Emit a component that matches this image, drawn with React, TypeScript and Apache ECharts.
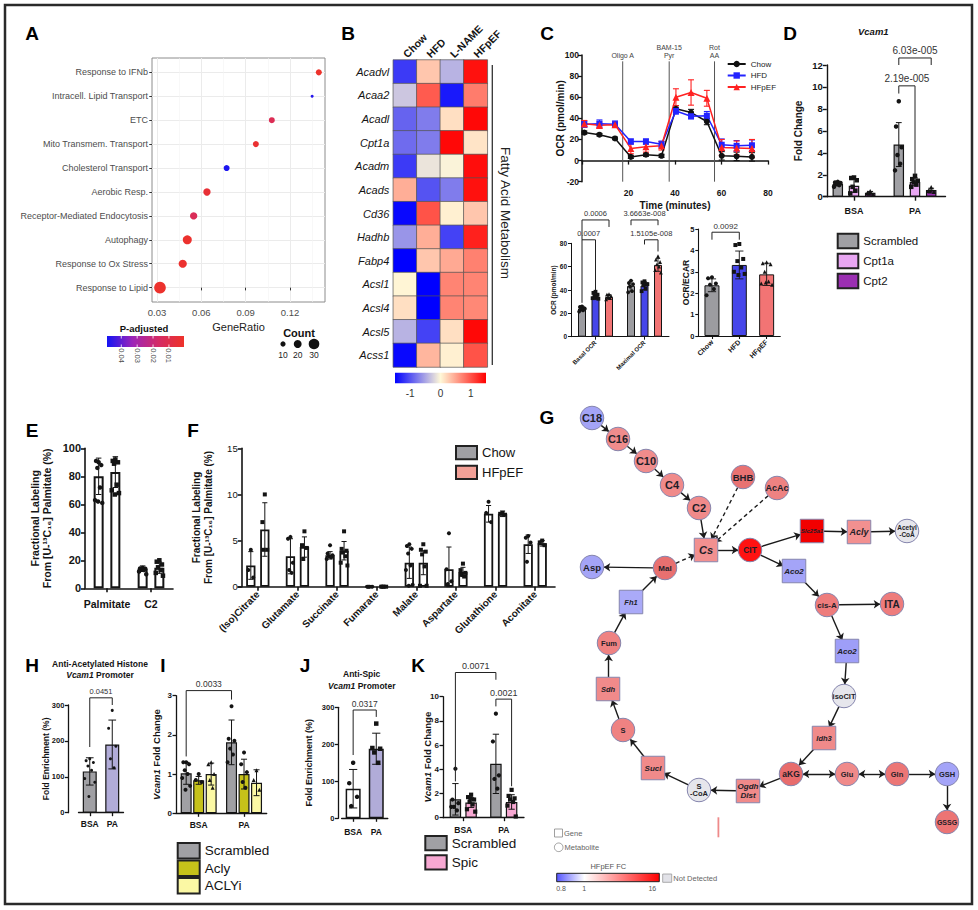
import React, { useEffect, useRef } from 'react';
import * as echarts from 'echarts';

const FONT = '"Liberation Sans", Arial, Helvetica, sans-serif';
const INK = '#141414';
const GRAY = '#a0a0a4';
const LAV = '#b1acd8';
const JIT = [0, -2.6, 2.6, -1.3, 1.3, -3.6, 3.6, -0.6, 0.6];

// ---------------- A : enrichment dot plot ----------------
const A_TERMS = ['Response to Lipid', 'Response to Ox Stress', 'Autophagy', 'Receptor-Mediated Endocytosis', 'Aerobic Resp.', 'Cholesterol Transport', 'Mito Transmem. Transport', 'ETC', 'Intracell. Lipid Transport', 'Response to IFNb'];
const A_RATIO = [0.032, 0.0474, 0.0505, 0.0548, 0.0638, 0.0771, 0.0969, 0.1077, 0.135, 0.1395];
const A_COUNT = [34, 21, 24, 18, 18, 13, 13, 13, 2, 13];
const A_PADJ = [0.0015, 0.002, 0.0018, 0.013, 0.004, 0.048, 0.003, 0.012, 0.047, 0.001];
const A_XTICKS = [0.03, 0.06, 0.09, 0.12];
const A_XMINOR = [0.045, 0.075, 0.105, 0.135];
const A_PTICKS = [0.04, 0.03, 0.02, 0.01];
const A_COUNT_KEYS = [10, 20, 30];
const A_PAL = ['#ee3229', '#d42b66', '#9d25b8', '#1414f4'];

// ---------------- B : heatmap ----------------
const B_GROUPS = ['Chow', 'HFD', 'L-NAME', 'HFpEF'];
const B_GENES = ['Acadvl', 'Acaa2', 'Acadl', 'Cpt1a', 'Acadm', 'Acads', 'Cd36', 'Hadhb', 'Fabp4', 'Acsl1', 'Acsl4', 'Acsl5', 'Acss1'];
const B_Z = [
  [-1.15, 0.3, -0.42, 1.4],
  [-0.3, 0.95, -1.35, 0.75],
  [-0.9, -0.75, 0.15, 1.45],
  [-0.85, -0.75, 1.45, 0.12],
  [-1.15, -0.12, -0.03, 1.42],
  [0.45, -1.0, -0.75, 1.4],
  [-1.45, 1.0, 0.05, 0.3],
  [-0.6, 0.45, -1.1, 1.3],
  [-1.5, 0.3, 0.48, 0.72],
  [0.02, -1.5, 0.7, 0.7],
  [0.15, -1.5, 0.7, 0.68],
  [-0.42, -1.1, 0.15, 1.45],
  [-1.45, 0.4, 0.05, 1.0],
];
const B_TICKS = [-1, 0, 1];
const B_PAL = ['#0000ff', '#fff8d8', '#ff0000'];

// ---------------- C : Seahorse ----------------
const C_TIME = [1, 7.5, 14.2, 21, 27.5, 34.2, 40.4, 46.9, 53.7, 60.1, 66.5, 73.1];
const C_CHOW = [26.5, 24.5, 21, 3.5, 5.5, 4.5, 49, 45.5, 37, 4.5, 4, 3.5];
const C_CHOW_SD = [1.5, 1.2, 1.2, 1.5, 1.5, 1.5, 3, 3, 3, 4, 4, 4];
const C_HFD = [34.5, 35, 34.5, 18, 18, 15.5, 47, 42, 42.5, 15, 14, 14.5];
const C_HFD_SD = [3, 3.5, 3, 2.5, 2.5, 3, 3, 2.5, 4, 5.5, 5, 5];
const C_HFPEF = [35, 33.5, 34, 11.5, 13, 14, 60, 64.5, 59, 12.5, 12, 11.5];
const C_HFPEF_SD = [3, 3, 2.5, 5, 5, 4, 8, 12, 7.5, 7.5, 6.5, 8.5];
const C_INJ_TIME = [17.5, 37.5, 57];
const C_INJ_LABEL = ['Oligo A', 'BAM-15\nPyr', 'Rot\nAA'];

const C_OCR_CATS = ['Basal OCR', 'Maximal OCR'];
const C_OCR_CHOW = [24.2, 43.5];
const C_OCR_CHOW_SD = [2.0, 4.5];
const C_OCR_CHOW_PTS = [[26, 25.5, 24.5, 23.5, 22.5, 21.5, 24], [48, 46, 45, 43, 39, 38]];
const C_OCR_HFD = [34.3, 43.8];
const C_OCR_HFD_SD = [2.5, 3.5];
const C_OCR_HFD_PTS = [[38.5, 37.5, 36, 35, 34, 33, 32.5, 34], [47.5, 46.5, 45, 44, 41, 39, 45]];
const C_OCR_HFPEF = [34.0, 61.5];
const C_OCR_HFPEF_SD = [2.0, 5.5];
const C_OCR_HFPEF_PTS = [[36.5, 36, 35, 34, 33, 32], [69, 66, 64, 62, 60, 57, 55]];

const C_RATIO_CATS = ['Chow', 'HFD', 'HFpEF'];
const C_RATIO = [2.37, 3.32, 2.88];
const C_RATIO_SD = [0.3, 0.65, 0.52];
const C_RATIO_PTS = [[2.75, 2.7, 2.45, 2.4, 2.2, 1.9], [4.3, 4.25, 3.6, 3.5, 3.2, 3.0, 2.9, 2.85], [3.45, 3.4, 3.35, 3.0, 2.55, 2.45, 2.4, 2.5]];

// ---------------- D : Vcam1 ----------------
const BSA_PA = ['BSA', 'PA'];
const D_SCR = [1.15, 4.75];
const D_SCR_SD = [0.15, 2.0];
const D_SCR_PTS = [[1.35, 1.3, 1.25, 1.15, 1.05, 0.9], [8.7, 6.4, 4.5, 3.8, 3.0, 2.4]];
const D_CPT1A = [1.0, 1.35];
const D_CPT1A_SD = [0.6, 0.35];
const D_CPT1A_PTS = [[1.75, 1.7, 1.5, 0.9, 0.55, 0.3], [1.9, 1.6, 1.45, 1.3, 1.1, 0.9]];
const D_CPT2 = [0.35, 0.6];
const D_CPT2_SD = [0.13, 0.17];
const D_CPT2_PTS = [[0.5, 0.35, 0.2, 0.3], [0.85, 0.55, 0.45, 0.5]];

// ---------------- E ----------------
const E_CATS = ['Palmitate', 'C2'];
const E_G1 = [80, 14];
const E_G1_SD = [13, 2];
const E_G1_PTS = [[90, 91, 88, 86, 72, 63, 61, 62], [14.5, 14.2, 14, 13.5, 13, 12, 10]];
const E_G2 = [83, 14.7];
const E_G2_SD = [11, 4];
const E_G2_PTS = [[92, 91, 90, 89, 74, 70, 68, 67], [20, 19, 17, 15, 13, 11, 9]];

// ---------------- F ----------------
const F_CATS = ['(Iso)Citrate', 'Glutamate', 'Succinate', 'Fumarate', 'Malate', 'Aspartate', 'Glutathione', 'Aconitate'];
const F_G1 = [2.3, 3.3, 3.4, 0.05, 2.6, 1.9, 7.9, 4.6];
const F_G1_SD = [1.5, 1.9, 0.4, 0.02, 1.7, 2.4, 0.9, 1.0];
const F_G1_PTS = [[4.0, 1.8, 1.0], [5.4, 5.2, 2.6, 1.8, 1.5], [4.5, 3.6, 3.4, 3.3, 3.2, 3.0], [0, 0, 0, 0], [4.6, 4.4, 4.1, 3.6, 2.3, 1.8, 0.2, 0.1], [5.8, 1.9, 0.6, 0.3], [9.2, 8.0, 7.0], [5.5, 5.3, 4.8, 2.7]];
const F_G2 = [6.2, 4.3, 3.9, 0.05, 2.6, 1.6, 7.9, 4.7];
const F_G2_SD = [2.9, 1.1, 1.0, 0.02, 1.3, 0.5, 0.3, 0.3];
const F_G2_PTS = [[10.0, 7.0, 4.0, 4.0], [6.0, 4.5, 4.2, 3.0], [6.0, 4.1, 3.9, 3.7, 3.3, 2.6, 2.3], [0, 0, 0, 0], [4.6, 4.0, 3.8, 3.5, 2.2, 0.1, 0.1], [2.5, 1.8, 1.5, 1.3, 1.1], [8.0, 7.9, 7.8], [5.0, 4.8, 4.5]];

// ---------------- H ----------------
const H_MEAN = [115, 190];
const H_SD = [38, 68];
const H_PTS = [[150, 145, 140, 130, 118, 95, 85, 45], [285, 235, 185, 150, 125]];

// ---------------- I ----------------
const I_SCR = [1.02, 1.81];
const I_SCR_SD = [0.28, 0.57];
const I_SCR_PTS = [[1.3, 1.3, 1.25, 1.1, 1.0, 0.9, 0.7, 0.6], [2.73, 1.9, 1.85, 1.65, 1.5, 1.3]];
const I_ACLY = [0.84, 1.0];
const I_ACLY_SD = [0.1, 0.38];
const I_ACLY_PTS = [[1.0, 0.85, 0.8], [1.55, 1.25, 1.05, 0.8, 0.65]];
const I_ACLYI = [1.0, 0.78];
const I_ACLYI_SD = [0.28, 0.33];
const I_ACLYI_PTS = [[1.3, 1.25, 1.0, 0.85, 0.65], [1.1, 0.85, 0.6]];

// ---------------- J ----------------
const J_MEAN = [80, 188];
const J_SD = [52, 42];
const J_PTS = [[150, 95, 58, 33], [256, 190, 188, 178, 150]];

// ---------------- K ----------------
const K_SCR = [1.52, 4.45];
const K_SCR_SD = [1.3, 2.45];
const K_SCR_PTS = [[4.05, 1.5, 1.2, 0.9, 0.6, 0.9], [8.6, 6.3, 3.5, 3.2, 2.4]];
const K_SPIC = [1.25, 1.3];
const K_SPIC_SD = [0.4, 0.6];
const K_SPIC_PTS = [[1.9, 1.7, 1.5, 1.3, 1.1, 0.7, 0.5, 1.6], [2.3, 1.8, 1.6, 1.5, 1.3, 1.0, 0.1]];

// ---------------- G : pathway ----------------
// [id, label, x, y, shape, fill, fontSize, italic]
const G_NODES: any[] = [
  ['C18', 'C18', 592, 418, 'c', '#a4a4f6', 11, 0],
  ['C16', 'C16', 618, 439, 'c', '#f08c8c', 11, 0],
  ['C10', 'C10', 646, 461, 'c', '#f08c8c', 11, 0],
  ['C4', 'C4', 672, 485, 'c', '#f08a8a', 11, 0],
  ['C2', 'C2', 699, 508, 'c', '#f08a8a', 11, 0],
  ['BHB', 'BHB', 743, 477, 'c', '#e87272', 9.5, 0],
  ['AcAc', 'AcAc', 777, 488, 'c', '#ee8282', 9, 0],
  ['Cs', 'Cs', 706, 550, 's', '#f29090', 11, 1],
  ['CIT', 'CIT', 750, 550, 'c', '#ff1212', 8.5, 0],
  ['Slc25a1', 'Slc25a1', 812, 531, 's', '#f20000', 6, 1],
  ['Acly', 'Acly', 859, 532, 's', '#f29090', 9, 1],
  ['AcCoA', 'Acetyl\n-CoA', 907, 531, 'c', '#e6e6ec', 6.5, 0],
  ['Aco2a', 'Aco2', 794, 571, 's', '#a4a4f8', 8, 1],
  ['Asp', 'Asp', 592, 567, 'c', '#a4a4f6', 9.5, 0],
  ['Mal', 'Mal', 665, 568, 'c', '#e87070', 8, 0],
  ['Fh1', 'Fh1', 631, 602, 's', '#aaaaf8', 7.5, 1],
  ['cisA', 'cis-A', 827, 605, 'c', '#ee7c7c', 8, 0],
  ['ITA', 'ITA', 892, 604, 'c', '#ee7c7c', 10, 0],
  ['Fum', 'Fum', 609, 643, 'c', '#ef8282', 7.5, 0],
  ['Aco2b', 'Aco2', 847, 651, 's', '#9e9ef8', 8, 1],
  ['Sdh', 'Sdh', 608, 689, 's', '#f08a8a', 7.5, 1],
  ['isoCIT', 'isoCIT', 844, 696, 'c', '#e6e6ec', 7.5, 0],
  ['S', 'S', 623, 730, 'c', '#ef8282', 7.5, 0],
  ['Idh3', 'Idh3', 824, 738, 's', '#f08a8a', 7.5, 1],
  ['Sucl', 'Sucl', 653, 768, 's', '#f08a8a', 8, 1],
  ['aKG', 'aKG', 791, 774, 'c', '#e86c6c', 8.5, 0],
  ['Glu', 'Glu', 847, 774, 'c', '#f08a8a', 7.5, 0],
  ['Gln', 'Gln', 897, 774, 'c', '#ec7676', 7.5, 0],
  ['GSH', 'GSH', 947, 774, 'c', '#a4a4f8', 7.5, 0],
  ['SCoA', 'S\n-CoA', 699, 790, 'c', '#e6e6ec', 7.5, 0],
  ['Ogdh', 'Ogdh\nDlst', 748, 791, 's', '#f08a8a', 8, 1],
  ['GSSG', 'GSSG', 947, 822, 'c', '#ec7474', 7, 0],
];
// [source, target, style: s solid, d dashed, b double arrow]
const G_EDGES: any[] = [
  ['C18', 'C16', 's'], ['C16', 'C10', 's'], ['C10', 'C4', 's'], ['C4', 'C2', 's'], ['C2', 'Cs', 's'],
  ['BHB', 'Cs', 'd'], ['AcAc', 'Cs', 'd'], ['Mal', 'Cs', 'd'], ['Cs', 'CIT', 's'],
  ['CIT', 'Slc25a1', 's'], ['Slc25a1', 'Acly', 's'], ['Acly', 'AcCoA', 's'],
  ['CIT', 'Aco2a', 's'], ['Aco2a', 'cisA', 's'], ['cisA', 'ITA', 's'], ['cisA', 'Aco2b', 's'],
  ['Aco2b', 'isoCIT', 's'], ['isoCIT', 'Idh3', 's'], ['Idh3', 'aKG', 's'],
  ['aKG', 'Glu', 'b'], ['Glu', 'Gln', 'b'], ['Gln', 'GSH', 's'], ['GSH', 'GSSG', 's'],
  ['aKG', 'Ogdh', 's'], ['Ogdh', 'SCoA', 's'], ['SCoA', 'Sucl', 's'], ['Sucl', 'S', 's'],
  ['S', 'Sdh', 's'], ['Sdh', 'Fum', 's'], ['Fum', 'Fh1', 's'], ['Fh1', 'Mal', 's'], ['Mal', 'Asp', 's'],
];
const G_FC_LABELS = ['0.8', '1', '16'];

function sizeOf(count: number) {
  return 2.5 + 0.27 * count;
}

function txt(x: number, y: number, text: string, o: any = {}) {
  const al = o.al || 'center';
  const va = o.va || 'middle';
  return {
    type: 'text', x, y, rotation: o.rot || 0, z: 100, silent: true,
    style: {
      text, fontSize: o.fs || 10, fontWeight: o.fw || 'normal', fontStyle: o.it ? 'italic' : 'normal',
      fontFamily: FONT, fill: o.fill || INK, align: al, verticalAlign: va, textAlign: al, textVerticalAlign: va,
      rich: o.rich, lineHeight: o.lh,
    },
  };
}

function buildOption() {
  const grid: any[] = [];
  const xAxis: any[] = [];
  const yAxis: any[] = [];
  const series: any[] = [];
  const legend: any[] = [];
  const visualMap: any[] = [];
  const els: any[] = [];

  // ---------- C top: line chart (first so legend uses line icons) ----------
  {
    const gi = grid.length;
    grid.push({ left: 582, top: 55, width: 186, height: 126.7, outerBoundsMode: 'none' });
    const xi = xAxis.length; const yi = yAxis.length;
    xAxis.push({
      type: 'value', gridIndex: gi, min: 0, max: 80, interval: 20,
      axisLine: { onZero: true, lineStyle: { color: INK, width: 1.5 } },
      axisTick: { length: 4, lineStyle: { color: INK, width: 1.3 } },
      axisLabel: { fontSize: 8.5, fontWeight: 'bold', color: INK, margin: 7, formatter: (v: number) => (v === 0 ? '' : String(v)) },
      splitLine: { show: false },
      name: 'Time (minutes)', nameLocation: 'middle', nameGap: 18.5, nameMoveOverlap: false,
      nameTextStyle: { fontSize: 10, fontWeight: 'bold', color: INK },
    });
    yAxis.push({
      type: 'value', gridIndex: gi, min: -20, max: 100, interval: 20,
      axisLine: { show: true, onZero: false, lineStyle: { color: INK, width: 1.5 } },
      axisTick: { show: true, length: 4, lineStyle: { color: INK, width: 1.3 } },
      axisLabel: { fontSize: 8.5, fontWeight: 'bold', color: INK, margin: 3 },
      splitLine: { show: false },
      name: 'OCR (pmol/min)', nameLocation: 'middle', nameRotate: 90, nameGap: 17, nameMoveOverlap: false,
      nameTextStyle: { fontSize: 10, fontWeight: 'bold', color: INK },
    });
    const groups = [
      { name: 'Chow', v: C_CHOW, sd: C_CHOW_SD, color: '#111111', sym: 'circle', ss: 6 },
      { name: 'HFD', v: C_HFD, sd: C_HFD_SD, color: '#2323ff', sym: 'rect', ss: 6 },
      { name: 'HFpEF', v: C_HFPEF, sd: C_HFPEF_SD, color: '#ff2222', sym: 'triangle', ss: 7 },
    ];
    groups.forEach((g) => {
      series.push({
        type: 'line', name: g.name, xAxisIndex: xi, yAxisIndex: yi, z: 4, silent: true,
        data: C_TIME.map((t, i) => [t, g.v[i]]), symbol: g.sym, symbolSize: g.ss, showSymbol: true,
        itemStyle: { color: g.color }, lineStyle: { color: g.color, width: 1.5 },
      });
    });
    groups.forEach((g) => {
      series.push({
        type: 'custom', xAxisIndex: xi, yAxisIndex: yi, z: 3, silent: true,
        data: C_TIME.map((t, i) => [t, g.v[i], g.sd[i]]),
        renderItem: (params: any, api: any) => {
          const t = api.value(0); const m = api.value(1); const s = api.value(2);
          const a = api.coord([t, m + s]); const b = api.coord([t, m - s]);
          const st = () => ({ stroke: g.color, lineWidth: 1.1 });
          return {
            type: 'group', children: [
              { type: 'line', shape: { x1: a[0], y1: a[1], x2: b[0], y2: b[1] }, style: st() },
              { type: 'line', shape: { x1: a[0] - 3, y1: a[1], x2: a[0] + 3, y2: a[1] }, style: st() },
              { type: 'line', shape: { x1: b[0] - 3, y1: b[1], x2: b[0] + 3, y2: b[1] }, style: st() },
            ],
          };
        },
      });
    });
    series.push({
      type: 'custom', xAxisIndex: xi, yAxisIndex: yi, z: 2, silent: true,
      data: C_INJ_TIME.map((t) => [t, 94]),
      renderItem: (params: any, api: any) => {
        const t = api.value(0);
        const top = api.coord([t, api.value(1)]); const bot = api.coord([t, -20]);
        return {
          type: 'group', children: [
            { type: 'line', shape: { x1: top[0], y1: top[1], x2: bot[0], y2: bot[1] }, style: { stroke: '#555', lineWidth: 1 } },
            { type: 'text', style: { text: C_INJ_LABEL[params.dataIndex], x: top[0], y: top[1] - 2, align: 'center', verticalAlign: 'bottom', textAlign: 'center', textVerticalAlign: 'bottom', fontSize: 7, lineHeight: 8, fill: '#444', fontFamily: FONT } },
          ],
        };
      },
    });
    legend.push({
      orient: 'vertical', left: 726.7, top: 60, padding: 0, itemWidth: 18, itemHeight: 8, itemGap: 3.5,
      selectedMode: false, textStyle: { fontSize: 8, color: '#222', lineHeight: 8, fontFamily: FONT },
      data: ['Chow', 'HFD', 'HFpEF'],
    });
  }

  // ---------- generic bar panel ----------
  function barPanel(p: any) {
    const gi = grid.length;
    grid.push({ left: p.left, top: p.top, width: p.width, height: p.height, outerBoundsMode: 'none' });
    const xi = xAxis.length; const yi = yAxis.length;
    const aw = p.axisW ?? 1.4; const tl = p.tickLen ?? 4;
    xAxis.push({
      type: 'category', gridIndex: gi, data: p.cats,
      axisLine: { show: true, onZero: false, lineStyle: { color: INK, width: aw } },
      axisTick: { show: true, alignWithLabel: true, length: tl, lineStyle: { color: INK, width: aw } },
      axisLabel: { interval: 0, fontSize: p.catFont, fontWeight: 'bold', color: INK, rotate: p.catRotate ?? 0, margin: p.catMargin ?? 5, fontFamily: FONT },
      splitLine: { show: false },
    });
    yAxis.push({
      type: 'value', gridIndex: gi, min: 0, max: p.yMax, interval: p.yStep, offset: p.yOffset ?? 0,
      axisLine: { show: true, onZero: false, lineStyle: { color: INK, width: aw } },
      axisTick: { show: true, length: tl, lineStyle: { color: INK, width: aw } },
      axisLabel: { fontSize: p.yFont, fontWeight: p.yBold === false ? 'normal' : 'bold', color: INK, margin: p.yMargin ?? 4, fontFamily: FONT },
      splitLine: { show: false },
      name: p.yName, nameLocation: 'middle', nameRotate: 90, nameGap: p.yNameGap, nameMoveOverlap: false,
      nameTextStyle: { fontSize: p.yNameFont, fontWeight: 'bold', color: INK, lineHeight: p.yNameLH, rich: p.yNameRich, fontFamily: FONT },
    });
    const k = p.groups.length; const w = p.barW; const gap = p.gapPx;
    const total = k * w + (k - 1) * gap;
    const offs = p.groups.map((_: any, j: number) => -total / 2 + w / 2 + j * (w + gap));
    const capW = p.capW ?? w * 0.55;
    p.groups.forEach((g: any, j: number) => {
      const off = offs[j];
      series.push({
        type: 'bar', name: g.name, xAxisIndex: xi, yAxisIndex: yi, barWidth: w, barGap: (gap / w) * 100 + '%',
        silent: true, z: 2, itemStyle: { color: g.color, borderColor: INK, borderWidth: p.borderW ?? 1.2 },
        data: g.mean,
      });
      const err: any[] = [];
      g.mean.forEach((m: any, i: number) => { if (m != null) err.push([i, m, g.sd[i]]); });
      series.push({
        type: 'custom', xAxisIndex: xi, yAxisIndex: yi, silent: true, z: 3, data: err,
        renderItem: (params: any, api: any) => {
          const i = api.value(0); const m = api.value(1); const s = api.value(2);
          const t = api.coord([i, m + s]); const b = api.coord([i, Math.max(0, m - s)]);
          const x = t[0] + off;
          const st = () => ({ stroke: INK, lineWidth: p.errW ?? 1 });
          return {
            type: 'group', children: [
              { type: 'line', shape: { x1: x, y1: t[1], x2: x, y2: b[1] }, style: st() },
              { type: 'line', shape: { x1: x - capW / 2, y1: t[1], x2: x + capW / 2, y2: t[1] }, style: st() },
              { type: 'line', shape: { x1: x - capW / 2, y1: b[1], x2: x + capW / 2, y2: b[1] }, style: st() },
            ],
          };
        },
      });
      const dots: any[] = [];
      g.pts.forEach((arr: number[], i: number) => arr.forEach((v: number, n: number) => {
        dots.push({ value: [i, v], symbolOffset: [off + (JIT[n % JIT.length] * w) / 10, 0] });
      }));
      series.push({
        type: 'scatter', xAxisIndex: xi, yAxisIndex: yi, silent: true, z: 4, symbol: g.dot || 'circle',
        symbolSize: p.dotSize, itemStyle: { color: INK, opacity: 1 }, data: dots,
      });
    });
    if (p.brackets) {
      const brs = p.brackets;
      series.push({
        type: 'custom', xAxisIndex: xi, yAxisIndex: yi, silent: true, z: 5,
        data: brs.map((b: any) => [b.a[0], b.y]),
        renderItem: (params: any, api: any) => {
          const b = brs[params.dataIndex];
          const pa = api.coord([b.a[0], b.y]); const pb = api.coord([b.b[0], b.y]);
          const xa = pa[0] + offs[b.a[1]]; const xb = pb[0] + offs[b.b[1]];
          const ya = api.coord([b.a[0], b.la])[1]; const yb = api.coord([b.b[0], b.lb])[1];
          return {
            type: 'group', children: [
              { type: 'polyline', shape: { points: [[xa, ya], [xa, pa[1]], [xb, pb[1]], [xb, yb]] }, style: { stroke: '#222', fill: 'none', lineWidth: 1 } },
              { type: 'text', style: { text: b.t, x: (xa + xb) / 2, y: pa[1] - 2, align: 'center', verticalAlign: 'bottom', textAlign: 'center', textVerticalAlign: 'bottom', fontSize: p.brFont, fill: '#333', fontFamily: FONT } },
            ],
          };
        },
      });
    }
  }

  // ---------- A ----------
  {
    const gi = grid.length;
    grid.push({ left: 152, top: 58, width: 173, height: 244, show: true, borderColor: '#8c8c8c', borderWidth: 1, backgroundColor: '#fff', outerBoundsMode: 'none' });
    const xi = xAxis.length; const yi = yAxis.length;
    xAxis.push({
      type: 'value', gridIndex: gi, min: 0.0266, max: 0.1437, position: 'bottom',
      axisLine: { show: false },
      axisTick: { show: true, length: 2.75, lineStyle: { color: '#333', width: 1 }, customValues: A_XTICKS },
      axisLabel: { customValues: A_XTICKS, fontSize: 9.5, color: '#4d4d4d', margin: 5, formatter: (v: number) => v.toFixed(2), fontFamily: FONT },
      splitLine: { show: true, lineStyle: { color: '#ebebeb', width: 1 } },
      name: 'GeneRatio', nameLocation: 'middle', nameGap: 19.5, nameMoveOverlap: false,
      nameTextStyle: { fontSize: 11, color: '#222', fontFamily: FONT },
    });
    xAxis.push({
      type: 'value', gridIndex: gi, min: 0.0266, max: 0.1437, position: 'top',
      axisLine: { show: false }, axisTick: { show: false, customValues: A_XMINOR },
      axisLabel: { show: false, customValues: A_XMINOR },
      splitLine: { show: true, lineStyle: { color: '#f3f3f3', width: 0.6 } },
    });
    yAxis.push({
      type: 'value', gridIndex: gi, min: -0.6, max: 9.6,
      axisLine: { show: false },
      axisTick: { show: true, length: 2.75, lineStyle: { color: '#333', width: 1 }, customValues: A_TERMS.map((_, i) => i) },
      axisLabel: { customValues: A_TERMS.map((_, i) => i), formatter: (v: number) => A_TERMS[Math.round(v)], fontSize: 9, color: '#4d4d4d', margin: 4, fontFamily: FONT },
      splitLine: { show: true, lineStyle: { color: '#ebebeb', width: 1 } },
    });
    const si = series.length;
    series.push({
      type: 'scatter', xAxisIndex: xi, yAxisIndex: yi, z: 5, silent: true,
      data: A_RATIO.map((r, i) => [r, i, A_COUNT[i], A_PADJ[i]]),
      symbolSize: (d: number[]) => sizeOf(d[2]), itemStyle: { opacity: 1 },
    });
    visualMap.push({ type: 'continuous', show: false, seriesIndex: si, dimension: 3, min: 0.0005, max: 0.049, inRange: { color: A_PAL } });
    // colour bar
    const cbL = 107; const cbW = 77;
    els.push({
      type: 'rect', shape: { x: cbL, y: 336, width: cbW, height: 11 }, silent: true,
      style: { fill: new echarts.graphic.LinearGradient(0, 0, 1, 0, A_PAL.slice().reverse().map((c, i) => ({ offset: i / (A_PAL.length - 1), color: c }))) },
    });
    A_PTICKS.forEach((p) => {
      const x = cbL + ((0.049 - p) / (0.049 - 0.0005)) * cbW;
      els.push({ type: 'line', shape: { x1: x, y1: 336, x2: x, y2: 338.5 }, style: { stroke: '#fff', lineWidth: 0.8 }, silent: true, z: 101 });
      els.push({ type: 'line', shape: { x1: x, y1: 344.5, x2: x, y2: 347 }, style: { stroke: '#fff', lineWidth: 0.8 }, silent: true, z: 101 });
      els.push(txt(x, 355.5, p.toFixed(2), { fs: 7.5, rot: -Math.PI / 2, fill: '#4d4d4d' }));
    });
    els.push(txt(144, 328, 'P-adjusted', { fs: 9.5, fw: 'bold', fill: '#111' }));
    els.push(txt(299, 332.7, 'Count', { fs: 11, fw: 'bold', fill: '#111' }));
    const cx = [283, 297.7, 314];
    A_COUNT_KEYS.forEach((c, i) => {
      els.push({ type: 'circle', shape: { cx: cx[i], cy: 344, r: sizeOf(c) / 2 }, style: { fill: '#111' }, silent: true });
      els.push(txt(cx[i], 355, String(c), { fs: 8.5, fill: '#222' }));
    });
  }

  // ---------- B ----------
  {
    const gi = grid.length;
    grid.push({ left: 393.3, top: 60, width: 94, height: 307, outerBoundsMode: 'none' });
    const xi = xAxis.length; const yi = yAxis.length;
    xAxis.push({
      type: 'category', gridIndex: gi, position: 'top', data: B_GROUPS,
      axisLine: { show: false }, axisTick: { show: false }, splitLine: { show: false },
      axisLabel: { interval: 0, rotate: -45, fontSize: 10.5, fontWeight: 'bold', color: INK, margin: 4, fontFamily: FONT },
    });
    yAxis.push({
      type: 'category', gridIndex: gi, data: B_GENES, inverse: true,
      axisLine: { show: false }, axisTick: { show: false }, splitLine: { show: false },
      axisLabel: { interval: 0, fontSize: 11, fontStyle: 'italic', color: INK, margin: 4, fontFamily: FONT },
    });
    const si = series.length;
    const data: any[] = [];
    B_Z.forEach((row, r) => row.forEach((v, c) => data.push([c, r, v])));
    series.push({
      type: 'heatmap', xAxisIndex: xi, yAxisIndex: yi, data, silent: true,
      itemStyle: { borderColor: '#555', borderWidth: 0.7 },
    });
    visualMap.push({ type: 'continuous', show: false, seriesIndex: si, dimension: 2, min: -1.5, max: 1.5, inRange: { color: B_PAL } });
    const bl = 395; const bw = 91;
    els.push({
      type: 'rect', shape: { x: bl, y: 372.7, width: bw, height: 10.6 }, silent: true,
      style: { fill: new echarts.graphic.LinearGradient(0, 0, 1, 0, B_PAL.map((c, i) => ({ offset: i / (B_PAL.length - 1), color: c }))) },
    });
    B_TICKS.forEach((t) => els.push(txt(bl + ((t + 1.5) / 3) * bw, 393.3, String(t), { fs: 10, fill: '#333' })));
    els.push({ type: 'line', shape: { x1: 492.3, y1: 65, x2: 492.3, y2: 365 }, style: { stroke: '#333', lineWidth: 1.3 }, silent: true });
    els.push(txt(505, 213, 'Fatty Acid Metabolism', { fs: 13.5, rot: -Math.PI / 2, fill: '#222' }));
  }

  // ---------- C bottom left ----------
  barPanel({
    left: 571, top: 243.3, width: 98, height: 93.4, cats: C_OCR_CATS, catFont: 6, catRotate: 45, catMargin: 5,
    yMax: 80, yStep: 20, yFont: 6.5, yName: 'OCR (pmol/min)', yNameFont: 6.5, yNameGap: 14.5,
    barW: 8, gapPx: 5.5, axisW: 1, tickLen: 3, dotSize: 3.8, borderW: 1, errW: 0.9, brFont: 7.5,
    groups: [
      { name: 'Chow', color: '#9c9ca0', mean: C_OCR_CHOW, sd: C_OCR_CHOW_SD, pts: C_OCR_CHOW_PTS, dot: 'circle' },
      { name: 'HFD', color: '#4646ea', mean: C_OCR_HFD, sd: C_OCR_HFD_SD, pts: C_OCR_HFD_PTS, dot: 'rect' },
      { name: 'HFpEF', color: '#f27474', mean: C_OCR_HFPEF, sd: C_OCR_HFPEF_SD, pts: C_OCR_HFPEF_PTS, dot: 'triangle' },
    ],
    brackets: [
      { a: [0, 0], b: [0, 2], y: 100, la: 83, lb: 94, t: '0.0006' },
      { a: [0, 0], b: [0, 1], y: 83, la: 29, lb: 40, t: '0.0007' },
      { a: [1, 0], b: [1, 2], y: 100, la: 95.5, lb: 95.5, t: '3.6663e-008' },
      { a: [1, 1], b: [1, 2], y: 83, la: 79, lb: 73, t: '1.5105e-008' },
    ],
  });

  // ---------- C bottom right ----------
  barPanel({
    left: 698.3, top: 229, width: 82, height: 107, cats: C_RATIO_CATS, catFont: 7, catRotate: 45, catMargin: 5,
    yMax: 5, yStep: 1, yFont: 7.5, yName: 'OCR/ECAR', yNameFont: 8.5, yNameGap: 8,
    barW: 15, gapPx: -15, axisW: 1.1, tickLen: 3, dotSize: 4, borderW: 1, errW: 0.9, brFont: 8,
    groups: [
      { name: 'Chow', color: '#9c9ca0', mean: [C_RATIO[0], null, null], sd: [C_RATIO_SD[0], 0, 0], pts: [C_RATIO_PTS[0], [], []], dot: 'circle' },
      { name: 'HFD', color: '#4646ea', mean: [null, C_RATIO[1], null], sd: [0, C_RATIO_SD[1], 0], pts: [[], C_RATIO_PTS[1], []], dot: 'rect' },
      { name: 'HFpEF', color: '#f27474', mean: [null, null, C_RATIO[2]], sd: [0, 0, C_RATIO_SD[2]], pts: [[], [], C_RATIO_PTS[2]], dot: 'triangle' },
    ],
    brackets: [{ a: [0, 0], b: [1, 1], y: 4.85, la: 4.5, lb: 4.5, t: '0.0092' }],
  });

  // ---------- D ----------
  barPanel({
    left: 823.5, top: 65, width: 122, height: 131.7, cats: BSA_PA, catFont: 9, catMargin: 9.5,
    yMax: 12, yStep: 2, yFont: 9.5, yOffset: -3.3, yName: 'Fold Change', yNameFont: 10, yNameGap: 23.5,
    barW: 10.5, gapPx: 5.7, dotSize: 4.5, brFont: 10,
    groups: [
      { name: 'Scrambled', color: GRAY, mean: D_SCR, sd: D_SCR_SD, pts: D_SCR_PTS, dot: 'circle' },
      { name: 'Cpt1a', color: '#e8a6f2', mean: D_CPT1A, sd: D_CPT1A_SD, pts: D_CPT1A_PTS, dot: 'rect' },
      { name: 'Cpt2', color: '#9b2fb2', mean: D_CPT2, sd: D_CPT2_SD, pts: D_CPT2_PTS, dot: 'triangle' },
    ],
    brackets: [
      { a: [1, 0], b: [1, 2], y: 12.64, la: 12.0, lb: 12.0, t: '6.03e-005' },
      { a: [1, 0], b: [1, 1], y: 10.1, la: 9.4, lb: 1.9, t: '2.19e-005' },
    ],
  });
  legend.push({
    orient: 'vertical', left: 836.7, top: 232.7, padding: 0, itemWidth: 20.6, itemHeight: 14.6, itemGap: 3.4, icon: 'rect',
    selectedMode: false, textStyle: { fontSize: 11.5, color: INK, lineHeight: 14.6, fontFamily: FONT },
    itemStyle: { borderColor: '#222', borderWidth: 2 }, data: ['Scrambled', 'Cpt1a', 'Cpt2'],
  });

  // ---------- E ----------
  barPanel({
    left: 85, top: 448.3, width: 88, height: 140, cats: E_CATS, catFont: 10.5, catMargin: 10,
    yMax: 100, yStep: 20, yFont: 11, yName: 'Fractional Labeling\nFrom [U-\u00b9\u00b3C\u2081\u2086] Palmitate (%)',
    yNameFont: 10.5, yNameLH: 11.7, yNameGap: 32.5, barW: 10, gapPx: 6.7, borderW: 2, axisW: 1.6, dotSize: 4.5,
    groups: [
      { name: 'E-Chow', color: '#ffffff', mean: E_G1, sd: E_G1_SD, pts: E_G1_PTS },
      { name: 'E-HFpEF', color: '#ffffff', mean: E_G2, sd: E_G2_SD, pts: E_G2_PTS, dot: 'rect' },
    ],
  });

  // ---------- F ----------
  barPanel({
    left: 238, top: 448.3, width: 317, height: 138.4, cats: F_CATS, catFont: 10, catRotate: 45, catMargin: 6,
    yMax: 15, yStep: 5, yFont: 9.5, yBold: false, yOffset: -3.7,
    yName: 'Fractional Labeling\nFrom [U-\u00b9\u00b3C\u2081\u2086] Palmitate (%)', yNameFont: 10, yNameLH: 11.6, yNameGap: 27.6,
    barW: 9.3, gapPx: 4.7, borderW: 1.8, axisW: 1.6, dotSize: 4,
    groups: [
      { name: 'F-Chow', color: '#ffffff', mean: F_G1, sd: F_G1_SD, pts: F_G1_PTS },
      { name: 'F-HFpEF', color: '#ffffff', mean: F_G2, sd: F_G2_SD, pts: F_G2_PTS, dot: 'rect' },
    ],
  });
  legend.push({
    orient: 'vertical', left: 455, top: 445, padding: 0, itemWidth: 21, itemHeight: 13.3, itemGap: 4.4, icon: 'rect',
    selectedMode: false, textStyle: { fontSize: 13, color: INK, lineHeight: 13.3, fontFamily: FONT },
    itemStyle: { borderColor: '#222', borderWidth: 2 }, formatter: (n: string) => n.slice(2),
    data: [{ name: 'F-Chow', itemStyle: { color: GRAY } }, { name: 'F-HFpEF', itemStyle: { color: '#f2a097' } }],
  });

  // ---------- H ----------
  barPanel({
    left: 78.5, top: 705, width: 45, height: 107.7, cats: BSA_PA, catFont: 8.5, catMargin: 6.4,
    yMax: 300, yStep: 100, yFont: 7.5, yOffset: 10.2, yName: 'Fold Enrichment (%)', yNameFont: 8.5, yNameGap: 18.3,
    barW: 14, gapPx: -14, dotSize: 3, brFont: 7.5, axisW: 1.3, tickLen: 3.5,
    groups: [
      { name: 'H-BSA', color: GRAY, mean: [H_MEAN[0], null], sd: [H_SD[0], 0], pts: [H_PTS[0], []] },
      { name: 'H-PA', color: LAV, mean: [null, H_MEAN[1]], sd: [0, H_SD[1]], pts: [[], H_PTS[1]] },
    ],
    brackets: [{ a: [0, 0], b: [1, 1], y: 320, la: 183, lb: 300, t: '0.0451' }],
  });

  // ---------- I ----------
  const vRich = (fs: number) => ({ i: { fontStyle: 'italic', fontWeight: 'bold', fontSize: fs, color: INK, fontFamily: FONT } });
  barPanel({
    left: 176, top: 695.7, width: 90.7, height: 117.6, cats: BSA_PA, catFont: 8.5, catMargin: 7.5,
    yMax: 3, yStep: 1, yFont: 8, yName: '{i|Vcam1} Fold Change', yNameFont: 9.5, yNameGap: 14.5, yNameRich: vRich(9.5),
    barW: 11, gapPx: 1.5, dotSize: 4, brFont: 8.5, axisW: 1.3, tickLen: 3.5,
    groups: [
      { name: 'Scrambled', color: GRAY, mean: I_SCR, sd: I_SCR_SD, pts: I_SCR_PTS },
      { name: 'Acly', color: '#c6c21a', mean: I_ACLY, sd: I_ACLY_SD, pts: I_ACLY_PTS },
      { name: 'ACLYi', color: '#fbf8a4', mean: I_ACLYI, sd: I_ACLYI_SD, pts: I_ACLYI_PTS, dot: 'triangle' },
    ],
    brackets: [{ a: [0, 0], b: [1, 0], y: 3.13, la: 1.45, lb: 2.9, t: '0.0033' }],
  });
  legend.push({
    orient: 'vertical', left: 176.7, top: 842, padding: 0, itemWidth: 22, itemHeight: 15.5, itemGap: 0, icon: 'rect',
    selectedMode: false, textStyle: { fontSize: 13.5, color: INK, lineHeight: 15.5, fontFamily: FONT },
    itemStyle: { borderColor: '#222', borderWidth: 2 }, data: ['Scrambled', 'Acly', 'ACLYi'],
  });

  // ---------- J ----------
  barPanel({
    left: 341.6, top: 707.3, width: 46.2, height: 111, cats: BSA_PA, catFont: 8.5, catMargin: 9,
    yMax: 300, yStep: 100, yFont: 7.5, yOffset: 3.3, yName: 'Fold Enrichment (%)', yNameFont: 9, yNameGap: 24.5,
    barW: 15, gapPx: -15, dotSize: 4.5, brFont: 8.5, axisW: 1.3, tickLen: 3.5, borderW: 1.5,
    groups: [
      { name: 'J-BSA', color: '#ffffff', mean: [J_MEAN[0], null], sd: [J_SD[0], 0], pts: [J_PTS[0], []] },
      { name: 'J-PA', color: LAV, mean: [null, J_MEAN[1]], sd: [0, J_SD[1]], pts: [[], J_PTS[1]], dot: 'rect' },
    ],
    brackets: [{ a: [0, 0], b: [1, 1], y: 292.7, la: 171, lb: 274, t: '0.0317' }],
  });

  // ---------- K ----------
  barPanel({
    left: 443, top: 696.7, width: 81, height: 121, cats: BSA_PA, catFont: 8.5, catMargin: 8,
    yMax: 10, yStep: 2, yFont: 8, yName: '{i|Vcam1} Fold Change', yNameFont: 9.5, yNameGap: 10.5, yNameRich: vRich(9.5),
    barW: 11.5, gapPx: 4.2, dotSize: 4.2, brFont: 9, axisW: 1.3, tickLen: 3.5,
    groups: [
      { name: 'Scrambled', color: GRAY, mean: K_SCR, sd: K_SCR_SD, pts: K_SCR_PTS },
      { name: 'Spic', color: '#f7a8d2', mean: K_SPIC, sd: K_SPIC_SD, pts: K_SPIC_PTS, dot: 'rect' },
    ],
    brackets: [
      { a: [0, 0], b: [1, 0], y: 12, la: 3.0, lb: 11.4, t: '0.0071' },
      { a: [1, 0], b: [1, 1], y: 9.8, la: 9.2, lb: 2.6, t: '0.0021' },
    ],
  });
  legend.push({
    orient: 'vertical', left: 424.3, top: 835, padding: 0, itemWidth: 21.4, itemHeight: 14.3, itemGap: 3, icon: 'rect',
    selectedMode: false, textStyle: { fontSize: 13.5, color: INK, lineHeight: 14.3, fontFamily: FONT },
    itemStyle: { borderColor: '#222', borderWidth: 2 }, data: ['Scrambled', 'Spic'],
  });

  // ---------- G : pathway graph on a page-sized hidden cartesian ----------
  {
    const gi = grid.length;
    grid.push({ left: 0, top: 0, width: 978, height: 910, outerBoundsMode: 'none' });
    const xi = xAxis.length; const yi = yAxis.length;
    xAxis.push({ type: 'value', gridIndex: gi, min: 0, max: 978, show: false });
    yAxis.push({ type: 'value', gridIndex: gi, min: 0, max: 910, inverse: true, show: false });
    series.push({
      type: 'graph', coordinateSystem: 'cartesian2d', xAxisIndex: xi, yAxisIndex: yi, silent: true, z: 6,
      symbolSize: 23.5, edgeSymbol: ['circle', 'arrow'], edgeSymbolSize: [0, 6.5],
      lineStyle: { color: '#1a1a1a', width: 1.4, opacity: 1, curveness: 0 },
      label: { show: true, position: 'inside' },
      emphasis: { disabled: true },
      data: G_NODES.map((n) => ({
        name: n[0], value: [n[2], n[3]], symbol: n[4] === 's' ? 'rect' : 'circle',
        itemStyle: { color: n[5], borderColor: '#8585ad', borderWidth: 1 },
        label: { show: true, formatter: n[1], fontSize: n[6], lineHeight: n[6] * 1.05, fontWeight: 'bold', fontStyle: n[7] ? 'italic' : 'normal', color: '#1e1e28', fontFamily: FONT },
      })),
      links: G_EDGES.map((e) => ({
        source: e[0], target: e[1],
        symbol: e[2] === 'b' ? ['arrow', 'arrow'] : ['circle', 'arrow'],
        symbolSize: e[2] === 'b' ? [6.5, 6.5] : [0, 6.5],
        lineStyle: { type: e[2] === 'd' ? [4, 3] : 'solid', width: 1.4, color: '#1a1a1a' },
      })),
    });
    // legend of G
    els.push({ type: 'rect', shape: { x: 554.5, y: 829, width: 8, height: 8 }, style: { fill: '#fff', stroke: '#888', lineWidth: 0.8 }, silent: true });
    els.push(txt(564, 833, 'Gene', { fs: 7.5, al: 'left', fill: '#666' }));
    els.push({ type: 'circle', shape: { cx: 558.7, cy: 847.3, r: 4.3 }, style: { fill: '#fff', stroke: '#888', lineWidth: 0.8 }, silent: true });
    els.push(txt(564.5, 847.3, 'Metabolite', { fs: 7.5, al: 'left', fill: '#666' }));
    els.push(txt(608.3, 866, 'HFpEF FC', { fs: 7.5, fill: '#555' }));
    els.push({
      type: 'rect', shape: { x: 556.7, y: 873.3, width: 102.6, height: 8.4 }, silent: true,
      style: { stroke: '#222', lineWidth: 1, fill: new echarts.graphic.LinearGradient(0, 0, 1, 0, [{ offset: 0, color: '#5656ff' }, { offset: 0.27, color: '#ffffff' }, { offset: 1, color: '#ff0000' }]) },
    });
    const fcX = [561, 584.3, 652.3];
    G_FC_LABELS.forEach((l, i) => els.push(txt(fcX[i], 888.7, l, { fs: 7, fill: '#555' })));
    els.push({ type: 'rect', shape: { x: 662.7, y: 874, width: 9, height: 8.3 }, style: { fill: '#e2e2e8', stroke: '#999', lineWidth: 0.8 }, silent: true });
    els.push(txt(673.3, 878.3, 'Not Detected', { fs: 7.5, al: 'left', fill: '#666' }));
    els.push({ type: 'rect', shape: { x: 717.5, y: 817.3, width: 1.8, height: 20 }, style: { fill: '#ee8a8a' }, silent: true });
  }

  // ---------- titles / letters ----------
  const LET: any[] = [['A', 32, 33], ['B', 348, 33], ['C', 547, 33], ['D', 790, 33], ['E', 32, 430], ['F', 193, 430], ['G', 547, 417], ['H', 32, 665], ['I', 163, 665], ['J', 305, 665], ['K', 418, 665]];
  LET.forEach((l) => els.push(txt(l[1], l[2], l[0], { fs: 19, fw: 'bold', fill: '#000' })));
  els.push(txt(873.3, 31.7, 'Vcam1', { fs: 9.5, fw: 'bold', it: true }));
  els.push(txt(100, 664, 'Anti-Acetylated Histone', { fs: 8.5, fw: 'bold' }));
  els.push(txt(100, 674.5, '{i|Vcam1} Promoter', { fs: 8.5, fw: 'bold', rich: vRich(8.5) }));
  els.push(txt(361.7, 674.3, 'Anti-Spic', { fs: 8.5, fw: 'bold' }));
  els.push(txt(361.7, 685.7, '{i|Vcam1} Promoter', { fs: 8.5, fw: 'bold', rich: vRich(8.5) }));
  els.push({ type: 'rect', shape: { x: 5, y: 5, width: 967, height: 899 }, style: { fill: 'none', stroke: '#2a2a2a', lineWidth: 2.5 }, silent: true, z: 200 });

  return {
    animation: false,
    backgroundColor: '#ffffff',
    textStyle: { fontFamily: FONT },
    grid, xAxis, yAxis, series, legend, visualMap,
    graphic: { elements: els },
  };
}

export default function App() {
  const ref = useRef<HTMLDivElement>(null);
  useEffect(() => {
    document.body.style.margin = '0';
    const chart = echarts.init(ref.current as HTMLDivElement, undefined, { renderer: 'svg' });
    chart.setOption(buildOption() as any);
    return () => chart.dispose();
  }, []);
  return <div ref={ref} style={{ width: 978, height: 910, background: '#fff' }} />;
}
